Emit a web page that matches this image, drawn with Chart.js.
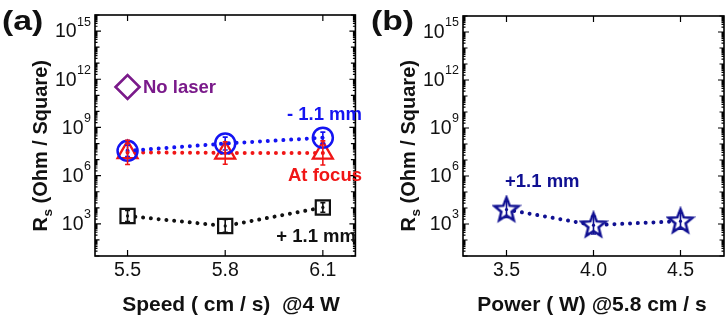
<!DOCTYPE html>
<html>
<head>
<meta charset="utf-8">
<script src="https://cdn.jsdelivr.net/npm/chart.js@4.4.0/dist/chart.umd.min.js"></script>
<style>
  html, body { margin: 0; padding: 0; background: #fff; overflow: hidden; width: 728px; height: 320px; }
  .panel { position: absolute; top: 0; width: 370px; height: 320px; }
  #pa { left: 0; }
  #pb { left: 370px; }
</style>
</head>
<body>
<div class="panel" id="pa"><canvas id="ca" width="370" height="320"></canvas></div>
<div class="panel" id="pb"><canvas id="cb" width="370" height="320"></canvas></div>
<script>
// Sheet resistance vs. scan speed at 4 W, for three focal offsets
const speeds = [5.5, 5.8, 6.1];
const rsMinus11 = [3.5e7, 1.0e8, 2.3e8];   // focus -1.1 mm
const rsFocus = [2.8e7, 2.6e7, 2.6e7];     // at focus
const rsPlus11 = [3.1e3, 7.4e2, 1.05e4];   // focus +1.1 mm
const noLaserSpeed = [5.5];
const rsNoLaser = [3.3e11];                // untreated film
// error bar half-widths, in decades
const errMinus11 = [0.35, 0.4, 0.35];
const errFocus = [0.75, 0.7, 0.75];
const errPlus11 = [0.35, 0.4, 0.3];

// Sheet resistance vs. laser power at 5.8 cm/s, focus +1.1 mm
const powers = [3.5, 4.0, 4.5];
const rsPower = [8.0e3, 8.5e2, 1.5e3];
const errPower = [0.5, 0.55, 0.5];

// labelled decades on the resistance axis
const yTickExponents = [3, 6, 9, 12, 15];

const FONT = '"Liberation Sans", Arial, Helvetica, sans-serif';
const C_BLUE = '#1414f2';
const C_RED = '#f01616';
const C_BLACK = '#111111';
const C_PURPLE = '#7a1a8a';
const C_NAVY = '#101092';

Chart.defaults.font.family = FONT;
Chart.defaults.color = '#111';

function pts(xs, ys) { return xs.map((x, i) => ({ x: x, y: ys[i] })); }

// open five-pointed star marker
function starMarker(color) {
  const c = document.createElement('canvas');
  c.width = 30; c.height = 30;
  const g = c.getContext('2d');
  const R = 12.5, r = 5.4, cx = 15, cy = 15.5;
  g.beginPath();
  for (let i = 0; i < 10; i++) {
    const rad = -Math.PI / 2 + i * Math.PI / 5;
    const rr = i % 2 ? r : R;
    const px = cx + rr * Math.cos(rad), py = cy + rr * Math.sin(rad);
    if (i) g.lineTo(px, py); else g.moveTo(px, py);
  }
  g.closePath();
  g.fillStyle = '#fff';
  g.fill();
  g.strokeStyle = color;
  g.lineWidth = 2.5;
  g.lineJoin = 'miter';
  g.stroke();
  return c;
}

function dotted(color) {
  return {
    borderColor: color,
    borderWidth: 4,
    borderDash: [0.01, 7.8],
    borderCapStyle: 'round',
    showLine: true,
    fill: false,
    tension: 0
  };
}

// vertical error bars, drawn through the y scale
const errorBars = {
  id: 'errorBars',
  afterDatasetsDraw(chart) {
    const ctx = chart.ctx, y = chart.scales.y, x = chart.scales.x;
    ctx.save();
    chart.data.datasets.forEach((ds) => {
      if (!ds.errors) return;
      ctx.strokeStyle = ds.pointBorderColor || ds.borderColor;
      ctx.lineWidth = 1.6;
      ds.data.forEach((p, i) => {
        const e = ds.errors[i];
        const px = x.getPixelForValue(p.x);
        const top = y.getPixelForValue(p.y * Math.pow(10, e));
        const bot = y.getPixelForValue(p.y / Math.pow(10, e));
        ctx.beginPath();
        ctx.moveTo(px, top); ctx.lineTo(px, bot);
        ctx.moveTo(px - 2.5, top); ctx.lineTo(px + 2.5, top);
        ctx.moveTo(px - 2.5, bot); ctx.lineTo(px + 2.5, bot);
        ctx.stroke();
        ctx.fillStyle = ctx.strokeStyle;
        ctx.beginPath();
        ctx.arc(px, y.getPixelForValue(p.y), 1.6, 0, Math.PI * 2);
        ctx.fill();
      });
    });
    ctx.restore();
  }
};

// box, inward ticks, power-of-ten labels, titles and annotations
const frame = {
  id: 'frame',
  afterDraw(chart, args, opts) {
    const ctx = chart.ctx, a = chart.chartArea, x = chart.scales.x, y = chart.scales.y;
    ctx.save();
    ctx.strokeStyle = '#000';
    ctx.lineWidth = 1.6;
    ctx.strokeRect(a.left, a.top, a.right - a.left, a.bottom - a.top);

    ctx.lineWidth = 1.2;
    ctx.beginPath();
    x.ticks.forEach(t => {
      const px = x.getPixelForValue(t.value);
      ctx.moveTo(px, a.bottom); ctx.lineTo(px, a.bottom - 6);
      ctx.moveTo(px, a.top); ctx.lineTo(px, a.top + 6);
    });
    const lo = Math.round(Math.log10(y.min)), hi = Math.round(Math.log10(y.max));
    for (let e = lo; e < hi + 1; e++) {
      for (let m = 1; m < 10; m++) {
        if (e === hi && m > 1) break;
        const py = y.getPixelForValue(m * Math.pow(10, e));
        const len = m === 1 ? (e % 3 === 0 ? 6 : 4.5) : 2.5;
        ctx.moveTo(a.left, py); ctx.lineTo(a.left + len, py);
        ctx.moveTo(a.right, py); ctx.lineTo(a.right - len, py);
      }
    }
    ctx.stroke();

    // tick labels 10^n
    ctx.fillStyle = '#111';
    ctx.textBaseline = 'middle';
    y.ticks.forEach(t => {
      const py = y.getPixelForValue(t.value);
      const exp = String(Math.round(Math.log10(t.value)));
      ctx.font = '12.5px ' + FONT;
      const ew = ctx.measureText(exp).width;
      ctx.textAlign = 'left';
      const right = a.left - 4;
      ctx.fillText(exp, right - ew, py - 9);
      ctx.font = '19.5px ' + FONT;
      ctx.textAlign = 'right';
      ctx.fillText('10', right - ew - 0.5, py + 1);
    });

    // y title with subscript
    ctx.save();
    ctx.translate(opts.yTitleX, opts.yTitleY);
    ctx.rotate(-Math.PI / 2);
    ctx.textBaseline = 'middle';
    ctx.textAlign = 'left';
    const big = 'bold 20px ' + FONT, small = 'bold 13.5px ' + FONT;
    ctx.font = big; const wR = ctx.measureText('R').width;
    const rest = ' (Ohm / Square)';
    const wRest = ctx.measureText(rest).width;
    ctx.font = small; const wS = ctx.measureText('s').width;
    let sx = -(wR + wS + wRest) / 2;
    ctx.font = big; ctx.fillText('R', sx, 0);
    ctx.font = small; ctx.fillText('s', sx + wR + 0.5, 7);
    ctx.font = big; ctx.fillText(rest, sx + wR + wS + 0.5, 0);
    ctx.restore();

    // x title
    ctx.font = 'bold 21px ' + FONT;
    ctx.textAlign = 'center';
    ctx.textBaseline = 'middle';
    ctx.fillText(opts.xTitle, opts.xTitleX, 305);

    // panel letter
    ctx.save();
    ctx.translate(opts.letterX, 23);
    ctx.scale(1.25, 1);
    ctx.font = 'bold 27px ' + FONT;
    ctx.textAlign = 'left';
    ctx.fillText(opts.letter, 0, 0);
    ctx.restore();

    // curve labels
    (opts.notes || []).forEach(n => {
      ctx.font = 'bold 18.5px ' + FONT;
      ctx.fillStyle = n.color;
      ctx.textAlign = n.align;
      ctx.fillText(n.text, n.x, n.y);
    });
    ctx.restore();
  }
};

function yScale(width) {
  return {
    type: 'logarithmic',
    min: 1e1,
    max: 1e16,
    grid: { display: false },
    border: { display: false },
    ticks: { display: false },
    afterBuildTicks: s => { s.ticks = yTickExponents.map(e => ({ value: Math.pow(10, e) })); },
    afterFit: s => { s.width = width; }
  };
}

function xScale(min, max, values) {
  return {
    type: 'linear',
    min: min,
    max: max,
    grid: { display: false, drawTicks: false },
    border: { display: false },
    ticks: {
      padding: 3,
      color: '#111',
      font: { size: 19.5, family: FONT },
      callback: v => Number(v).toFixed(1)
    },
    afterBuildTicks: s => { s.ticks = values.map(v => ({ value: v })); },
    afterFit: s => { s.height = 64; }
  };
}

const common = {
  responsive: false,
  devicePixelRatio: 1,
  animation: false,
  layout: { padding: { top: 15, right: 5, left: 0, bottom: 0 } },
  plugins: { legend: { display: false }, tooltip: { enabled: false } }
};

// panel (a): speed series
new Chart(document.getElementById('ca'), {
  type: 'scatter',
  data: {
    datasets: [
      Object.assign(dotted(C_BLUE), {
        label: '- 1.1 mm', data: pts(speeds, rsMinus11), errors: errMinus11, order: 0,
        pointStyle: 'circle', pointRadius: 10, pointBorderWidth: 2.5,
        pointBorderColor: C_BLUE, pointBackgroundColor: 'rgba(255,255,255,0)'
      }),
      Object.assign(dotted(C_RED), {
        label: 'At focus', data: pts(speeds, rsFocus), errors: errFocus, order: 1,
        pointStyle: 'triangle', pointRadius: 11.5, pointBorderWidth: 2.3,
        pointBorderColor: C_RED, pointBackgroundColor: 'rgba(255,255,255,0)'
      }),
      Object.assign(dotted(C_BLACK), {
        label: '+ 1.1 mm', data: pts(speeds, rsPlus11), errors: errPlus11, order: 2,
        pointStyle: 'rect', pointRadius: 10, pointBorderWidth: 2.2,
        pointBorderColor: C_BLACK, pointBackgroundColor: '#fff'
      }),
      {
        label: 'No laser', data: pts(noLaserSpeed, rsNoLaser), order: 3, showLine: false,
        pointStyle: 'rectRot', pointRadius: 12, pointBorderWidth: 2.6,
        pointBorderColor: C_PURPLE, pointBackgroundColor: 'rgba(255,255,255,0)'
      }
    ]
  },
  options: Object.assign({}, common, {
    scales: { x: xScale(5.4, 6.2, speeds), y: yScale(95) },
    plugins: Object.assign({}, common.plugins, {
      frame: {
        letter: '(a)', letterX: 2,
        xTitle: 'Speed ( cm / s)  @4 W', xTitleX: 231,
        yTitleX: 41, yTitleY: 146,
        notes: [
          { text: 'No laser', x: 143, y: 88, align: 'left', color: C_PURPLE },
          { text: '- 1.1 mm', x: 362, y: 115, align: 'right', color: C_BLUE },
          { text: 'At focus', x: 362, y: 176, align: 'right', color: C_RED },
          { text: '+ 1.1 mm', x: 356, y: 237, align: 'right', color: C_BLACK }
        ]
      }
    })
  }),
  plugins: [errorBars, frame]
});

// panel (b): power series
new Chart(document.getElementById('cb'), {
  type: 'scatter',
  data: {
    datasets: [
      Object.assign(dotted(C_NAVY), {
        label: '+1.1 mm', data: pts(powers, rsPower), errors: errPower,
        pointStyle: starMarker(C_NAVY), pointRadius: 12,
        pointBorderColor: C_NAVY
      })
    ]
  },
  options: Object.assign({}, common, {
    scales: { x: xScale(3.25, 4.75, powers), y: yScale(93) },
    plugins: Object.assign({}, common.plugins, {
      frame: {
        letter: '(b)', letterX: 1,
        xTitle: 'Power ( W) @5.8 cm / s', xTitleX: 222,
        yTitleX: 39, yTitleY: 146,
        notes: [
          { text: '+1.1 mm', x: 135, y: 182, align: 'left', color: C_NAVY }
        ]
      }
    })
  }),
  plugins: [errorBars, frame]
});
</script>
</body>
</html>
